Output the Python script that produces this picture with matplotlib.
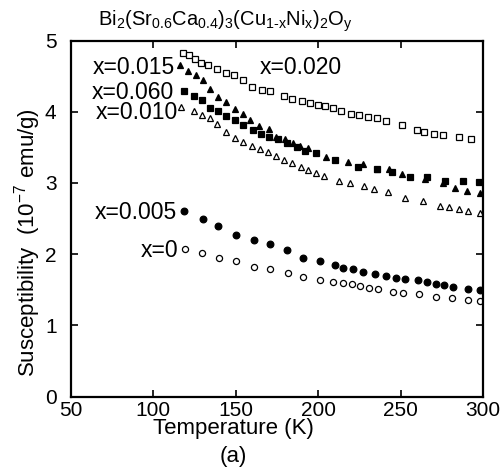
import matplotlib
matplotlib.use("Agg")
import matplotlib.pyplot as plt

plt.rcParams['font.family'] = ['Liberation Sans', 'DejaVu Sans']
plt.rcParams['mathtext.fontset'] = 'custom'
plt.rcParams['mathtext.rm'] = 'Liberation Sans'
plt.rcParams['mathtext.it'] = 'Liberation Sans'
plt.rcParams['mathtext.bf'] = 'Liberation Sans:bold'

# ---- data ----
T_020 = [118, 122, 125.5, 129, 133.5, 139, 144, 149, 154.5, 160, 166, 171, 179.5, 184.5,
         190, 195, 200, 204, 209, 214, 220, 225, 230.5, 236, 241, 251, 260, 264, 270, 276,
         285.5, 292.5]
V_020 = [4.83, 4.79, 4.74, 4.69, 4.66, 4.60, 4.55, 4.51, 4.45, 4.35, 4.31, 4.29, 4.22, 4.18,
         4.15, 4.12, 4.10, 4.08, 4.05, 4.01, 3.97, 3.95, 3.93, 3.91, 3.87, 3.82, 3.74, 3.72,
         3.69, 3.67, 3.65, 3.62]

T_015 = [116.5, 121.5, 126, 130.5, 134.5, 139.5, 144.5, 149.5, 154.5, 159, 164.5, 170, 174.5,
         180, 185, 189, 194, 205, 218, 227.5, 236, 243, 251, 265, 276, 283, 290.5, 298]
V_015 = [4.65, 4.57, 4.51, 4.44, 4.32, 4.20, 4.13, 4.04, 3.97, 3.89, 3.80, 3.76, 3.65,
         3.61, 3.56, 3.52, 3.49, 3.37, 3.29, 3.26, 3.20, 3.19, 3.13, 3.05, 3.00, 2.93, 2.88, 2.86]

T_060 = [119, 125, 129.5, 134.5, 139.5, 144, 149.5, 154.5, 160.5, 165.5, 170, 175.5, 181, 187,
         192, 199, 210, 224.5, 236, 245, 256, 266, 277, 288, 297.5]
V_060 = [4.29, 4.22, 4.16, 4.05, 4.01, 3.94, 3.89, 3.82, 3.74, 3.68, 3.65, 3.61, 3.56, 3.51,
         3.45, 3.42, 3.32, 3.23, 3.19, 3.15, 3.08, 3.08, 3.03, 3.03, 3.01]

T_010 = [117, 125, 129.5, 134.5, 139, 144, 149.5, 154.5, 160, 165, 169.5, 174.5, 179.5, 184,
         189.5, 194, 199, 203.5, 213, 219.5, 228, 234, 242.5, 252.5, 263.5, 274, 279.5, 285.5,
         291, 298]
V_010 = [4.06, 4.01, 3.96, 3.91, 3.83, 3.72, 3.63, 3.58, 3.52, 3.48, 3.43, 3.38, 3.32, 3.28,
         3.23, 3.18, 3.14, 3.09, 3.02, 3.00, 2.95, 2.91, 2.87, 2.79, 2.74, 2.68, 2.66, 2.63,
         2.60, 2.58]

T_005 = [119, 130, 139.5, 150.5, 161, 171, 181.5, 191, 201.5, 210, 215, 221.5, 227, 234.5,
         241, 247, 253, 260.5, 266, 271.5, 276.5, 282, 291, 298]
V_005 = [2.60, 2.49, 2.40, 2.27, 2.20, 2.14, 2.06, 1.94, 1.90, 1.85, 1.81, 1.79, 1.75, 1.72,
         1.69, 1.67, 1.65, 1.63, 1.61, 1.58, 1.56, 1.54, 1.51, 1.50]

T_000 = [119.5, 129.5, 140, 150.5, 161, 171, 182, 191, 201, 209, 215, 220.5, 225.5, 231,
         236.5, 245.5, 251.5, 261, 271.5, 281, 291, 298]
V_000 = [2.07, 2.02, 1.94, 1.90, 1.82, 1.79, 1.74, 1.68, 1.64, 1.61, 1.59, 1.58, 1.55, 1.53,
         1.51, 1.47, 1.46, 1.44, 1.40, 1.38, 1.35, 1.34]

x_ticks = [50, 100, 150, 200, 250, 300]
y_ticks = [0, 1, 2, 3, 4, 5]

# ---- figure ----
W, H = 504, 475
fig = plt.figure(figsize=(W / 100, H / 100), dpi=100)
L, R, Tp, B = 70.5, 483, 40.5, 396.5
ax = fig.add_axes([L / W, 1 - B / H, (R - L) / W, (B - Tp) / H])

ms = 4.4
mew = 0.9
ax.plot(T_020, V_020, linestyle='none', marker='s', ms=ms, mfc='white', mec='black', mew=mew)
ax.plot(T_010, V_010, linestyle='none', marker='^', ms=ms, mfc='white', mec='black', mew=mew)
ax.plot(T_015, V_015, linestyle='none', marker='^', ms=ms + 0.6, mfc='black', mec='black', mew=mew)
ax.plot(T_060, V_060, linestyle='none', marker='s', ms=ms, mfc='black', mec='black', mew=mew)
ax.plot(T_005, V_005, linestyle='none', marker='o', ms=ms + 0.4, mfc='black', mec='black', mew=mew)
ax.plot(T_000, V_000, linestyle='none', marker='o', ms=ms, mfc='white', mec='black', mew=mew)

ax.set_xlim(50, 300)
ax.set_ylim(0, 5)
ax.set_xticks(x_ticks)
ax.set_yticks(y_ticks)
ax.set_xticklabels([str(v) for v in x_ticks])
ax.set_yticklabels([str(v) for v in y_ticks])
ax.tick_params(direction='in', length=5, width=1.2, labelsize=15,
               top=True, right=True, colors='black')
ax.tick_params(axis='x', pad=3)
ax.tick_params(axis='y', pad=10)
for s in ax.spines.values():
    s.set_linewidth(1.6)

fs = 16.5
ax.text(113.3, 4.62, 'x=0.015', ha='right', va='center', fontsize=fs)
ax.text(112.7, 4.27, 'x=0.060', ha='right', va='center', fontsize=fs)
ax.text(115.2, 3.99, 'x=0.010', ha='right', va='center', fontsize=fs)
ax.text(164.8, 4.62, 'x=0.020', ha='left', va='center', fontsize=fs)
ax.text(114.5, 2.58, 'x=0.005', ha='right', va='center', fontsize=fs)
ax.text(115.2, 2.05, 'x=0', ha='right', va='center', fontsize=fs)

fig.text(98 / W, 1 - 26 / H,
         r'Bi$_{2}$(Sr$_{0.6}$Ca$_{0.4}$)$_{3}$(Cu$_{1\text{-}x}$Ni$_{x}$)$_{2}$O$_{y}$',
         ha='left', va='baseline', fontsize=14.5)
fig.text(28 / W, 1 - 243 / H, r'Susceptibility  (10$^{-7}$ emu/g)',
         rotation=90, ha='center', va='center', fontsize=16)
fig.text(233 / W, 1 - 418 / H, 'Temperature (K)', ha='center', va='top', fontsize=16)
fig.text(233 / W, 1 - 446 / H, '(a)', ha='center', va='top', fontsize=16)

fig.savefig('out.png', dpi=100)
